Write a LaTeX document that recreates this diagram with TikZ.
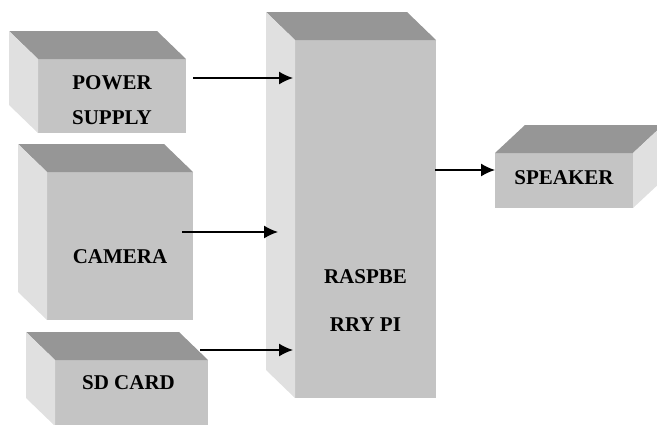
\documentclass[tikz,border=0pt]{standalone}
\usepackage{fontspec}
\setmainfont{Liberation Serif}
\usetikzlibrary{arrows.meta,calc}
\definecolor{boxtop}{RGB}{150,150,150}
\definecolor{boxfront}{RGB}{196,196,196}
\definecolor{boxside}{RGB}{224,224,224}

\begin{document}
\begin{tikzpicture}[x=1pt,y=-1pt,
    front/.style={fill=boxfront,inner sep=0pt,outer sep=0pt},
    lbl/.style={font=\fontsize{21}{25}\selectfont\bfseries,align=center},
    arr/.style={-{Latex[length=14pt,width=13pt]},line width=1.4pt}]
        \useasboundingbox (0,0) rectangle (657,424);
        \clip (0,0) rectangle (657,424);
        \node[front,minimum width=148,minimum height=74,label={[lbl,yshift=-4.5pt]center:POWER\\[10pt]SUPPLY}] (pwr) at (112,96) {};
        \node[front,minimum width=146,minimum height=148,label={[lbl,yshift=-11pt]center:CAMERA}] (cam) at (120,246) {};
        \node[front,minimum width=153,minimum height=66,label={[lbl,xshift=-3pt,yshift=10pt]center:SD CARD}] (sd) at (131.5,393) {};
        \node[front,minimum width=141,minimum height=358,label={[lbl,yshift=-82pt]center:RASPBE\\[23pt]RRY PI}] (rpi) at (365.5,219) {};
        \node[front,minimum width=138,minimum height=55,label={[lbl,yshift=2.5pt]center:SPEAKER}] (spk) at (564,180.5) {};
        \foreach \n in {pwr,cam,sd,rpi}{
            \fill[boxtop] (\n.north west) -- ++(-29,-28) -- ($(\n.north east)+(-29,-28)$) -- (\n.north east) -- cycle;
            \fill[boxside] (\n.north west) -- ++(-29,-28) -- ($(\n.south west)+(-29,-28)$) -- (\n.south west) -- cycle;}
        \fill[boxtop] (spk.north west) -- ++(30,-28) -- ($(spk.north east)+(30,-28)$) -- (spk.north east) -- cycle;
        \fill[boxside] (spk.north east) -- ++(30,-28) -- ($(spk.south east)+(30,-28)$) -- (spk.south east) -- cycle;
        \draw[arr] ([shift={(7,19)}]pwr.north east) -- ([shift={(-2,38)}]rpi.north west);
        \draw[arr] ([shift={(-11,60)}]cam.north east) -- ([shift={(-17,192)}]rpi.north west);
        \draw[arr] ([shift={(-8,-10)}]sd.north east) -- ([shift={(-2,310)}]rpi.north west);
        \draw[arr] ([shift={(-1,130)}]rpi.north east) -- ([shift={(0,17)}]spk.north west);
      \end{tikzpicture}
\end{document}
